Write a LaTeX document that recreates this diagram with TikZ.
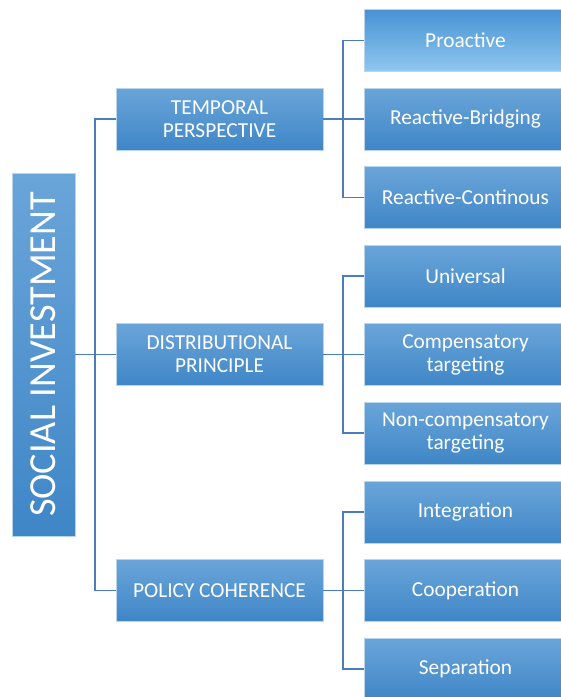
\documentclass[tikz,border=0pt]{standalone}
\usepackage{fontspec}
\usepackage{graphicx}
\setmainfont{Carlito}

\definecolor{boxtop}{HTML}{6AA5D9}
\definecolor{boxbot}{HTML}{3F86C7}
\definecolor{protop}{HTML}{4893D4}
\definecolor{probot}{HTML}{8FC7EF}
\definecolor{boxline}{HTML}{B9D5EE}
\definecolor{linkblue}{HTML}{4A7EBB}

\begin{document}
\begin{tikzpicture}[x=0.75pt, y=-0.75pt,
  box/.style={rectangle, draw=boxline, line width=0.6pt, top color=boxtop, bottom color=boxbot,
    text=white, align=center, inner sep=0pt, font=\fontsize{16}{17.3}\selectfont},
  midbox/.style={box, minimum width=155.25pt, minimum height=46.5pt},
  leafbox/.style={box, minimum width=152.25pt, minimum height=46.5pt},
  rootbox/.style={box, minimum width=47.25pt, minimum height=272.25pt, font=\fontsize{28.7}{34}\selectfont},
  edge/.style={line width=0.9pt, draw=linkblue}
]
\useasboundingbox (0,0) rectangle (561,697);
\clip (0,0) rectangle (561,697);
\node[rootbox] (root) at (43.5,354.5) {\rotatebox{90}{SOCIAL INVESTMENT}};
\node[midbox] (temp) at (219.5,119.0) {TEMPORAL\\PERSPECTIVE};
\node[midbox] (dist) at (219.5,354.5) {DISTRIBUTIONAL\\PRINCIPLE};
\node[midbox] (pol) at (219.5,590.5) {POLICY COHERENCE};
\node[leafbox, top color=protop, bottom color=probot] (pro) at (465.5,40.5) {Proactive};
\node[leafbox] (rbr) at (465.5,119.0) {Reactive-Bridging};
\node[leafbox] (rco) at (465.5,197.5) {Reactive-Continous};
\node[leafbox] (uni) at (465.5,276.0) {Universal};
\node[leafbox] (com) at (465.5,354.5) {Compensatory\\targeting};
\node[leafbox] (non) at (465.5,433.0) {Non-compensatory\\targeting};
\node[leafbox] (int) at (465.5,512.0) {Integration};
\node[leafbox] (coo) at (465.5,590.5) {Cooperation};
\node[leafbox] (sep) at (465.5,669.0) {Separation};
% trunk points of the brackets
\coordinate (t0) at (95,119.0);
\coordinate (t1) at (343,40.5);
\coordinate (t2) at (343,276.0);
\coordinate (t3) at (343,512.0);
\draw[edge] (root) -- (dist);
\draw[edge] (temp.west) -- (t0) |- (pol.west);
\draw[edge] (temp) -- (rbr);
\draw[edge] (pro.west) -- (t1) |- (rco.west);
\draw[edge] (dist) -- (com);
\draw[edge] (uni.west) -- (t2) |- (non.west);
\draw[edge] (pol) -- (coo);
\draw[edge] (int.west) -- (t3) |- (sep.west);
\end{tikzpicture}
\end{document}
